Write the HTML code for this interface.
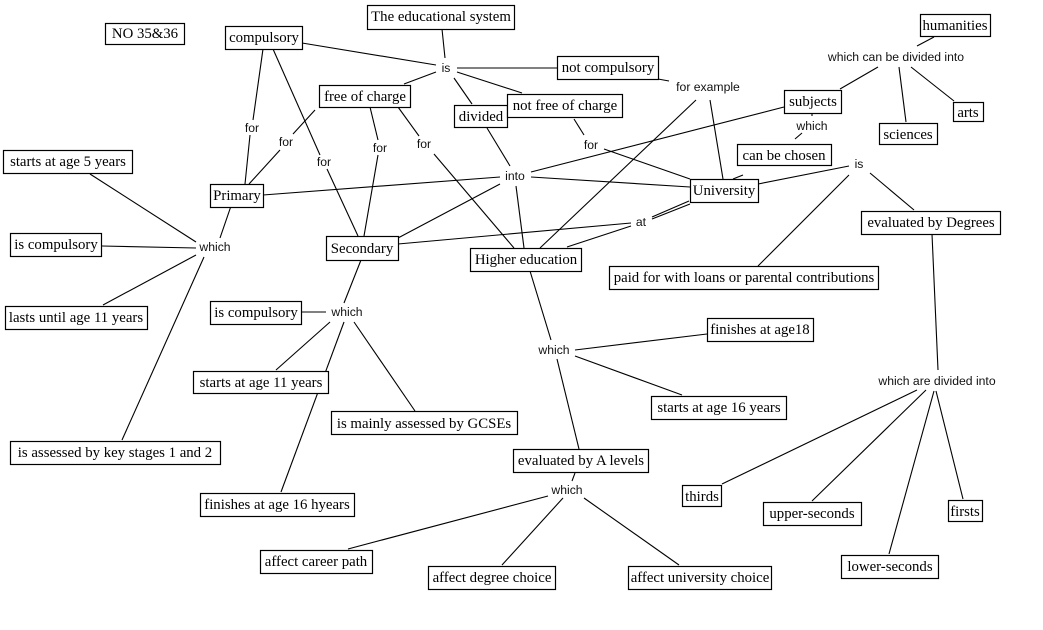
<!DOCTYPE html>
<html><head><meta charset="utf-8">
<style>
html,body{margin:0;padding:0;background:#fff;width:1043px;height:630px;overflow:hidden}
svg{display:block}
.l line{stroke:#000;stroke-width:1.1}
.b rect{fill:#fff;stroke:#000;stroke-width:1.2}
.t text{font-family:"Liberation Serif",serif;font-size:14.8px;text-anchor:middle;fill:#000}
.s text{font-family:"Liberation Sans",sans-serif;font-size:12.2px;text-anchor:middle;fill:#111}
</style></head><body>
<svg width="1043" height="630" viewBox="0 0 1043 630" xmlns="http://www.w3.org/2000/svg">
<g class="l">
<line x1="442" y1="29" x2="445" y2="58"/>
<line x1="302" y1="43" x2="436" y2="65"/>
<line x1="404" y1="84" x2="436" y2="72"/>
<line x1="457" y1="68" x2="557" y2="68"/>
<line x1="457" y1="72" x2="522" y2="93"/>
<line x1="454" y1="78" x2="472" y2="104"/>
<line x1="658" y1="79" x2="669" y2="81"/>
<line x1="263" y1="49" x2="253" y2="120"/>
<line x1="250" y1="135" x2="245" y2="184"/>
<line x1="273" y1="49" x2="320" y2="155"/>
<line x1="327" y1="169" x2="358" y2="236"/>
<line x1="315" y1="110" x2="293" y2="134"/>
<line x1="280" y1="150" x2="249" y2="184"/>
<line x1="370" y1="107" x2="378" y2="140"/>
<line x1="378" y1="155" x2="364" y2="236"/>
<line x1="398" y1="107" x2="419" y2="136"/>
<line x1="434" y1="154" x2="514" y2="248"/>
<line x1="574" y1="119" x2="584" y2="135"/>
<line x1="604" y1="149" x2="690" y2="179"/>
<line x1="487" y1="128" x2="510" y2="166"/>
<line x1="263" y1="195" x2="500" y2="177"/>
<line x1="398" y1="238" x2="500" y2="184"/>
<line x1="516" y1="186" x2="524" y2="248"/>
<line x1="531" y1="177" x2="690" y2="187"/>
<line x1="531" y1="172" x2="784" y2="107"/>
<line x1="540" y1="248" x2="696" y2="100"/>
<line x1="710" y1="100" x2="723" y2="179"/>
<line x1="398" y1="244" x2="631" y2="223"/>
<line x1="567" y1="247" x2="631" y2="226"/>
<line x1="652" y1="217" x2="689" y2="201"/>
<line x1="652" y1="219" x2="690" y2="204"/>
<line x1="733" y1="179" x2="743" y2="175"/>
<line x1="758" y1="184" x2="849" y2="166"/>
<line x1="758" y1="266" x2="849" y2="175"/>
<line x1="870" y1="173" x2="914" y2="210"/>
<line x1="795" y1="139" x2="802" y2="133"/>
<line x1="812" y1="114" x2="812" y2="116"/>
<line x1="840" y1="89" x2="878" y2="67"/>
<line x1="899" y1="67" x2="906" y2="122"/>
<line x1="911" y1="67" x2="954" y2="101"/>
<line x1="917" y1="46" x2="934" y2="37"/>
<line x1="932" y1="234" x2="938" y2="370"/>
<line x1="722" y1="484" x2="917" y2="390"/>
<line x1="812" y1="501" x2="926" y2="390"/>
<line x1="889" y1="554" x2="934" y2="391"/>
<line x1="963" y1="499" x2="936" y2="391"/>
<line x1="231" y1="206" x2="220" y2="238"/>
<line x1="90" y1="174" x2="196" y2="242"/>
<line x1="102" y1="246" x2="196" y2="248"/>
<line x1="103" y1="305" x2="196" y2="255"/>
<line x1="122" y1="440" x2="204" y2="257"/>
<line x1="361" y1="260" x2="344" y2="303"/>
<line x1="302" y1="312" x2="326" y2="312"/>
<line x1="330" y1="322" x2="276" y2="370"/>
<line x1="344" y1="322" x2="281" y2="492"/>
<line x1="354" y1="322" x2="415" y2="411"/>
<line x1="530" y1="271" x2="551" y2="340"/>
<line x1="575" y1="350" x2="707" y2="334"/>
<line x1="575" y1="356" x2="682" y2="395"/>
<line x1="557" y1="359" x2="579" y2="449"/>
<line x1="575" y1="473" x2="572" y2="481"/>
<line x1="548" y1="496" x2="348" y2="549"/>
<line x1="563" y1="498" x2="502" y2="565"/>
<line x1="584" y1="498" x2="679" y2="565"/>
</g>
<g class="b">
<rect x="105.5" y="23.5" width="79" height="21"/>
<rect x="367.5" y="5.5" width="147" height="24"/>
<rect x="225.5" y="26.5" width="77" height="23"/>
<rect x="557.5" y="56.5" width="101" height="23"/>
<rect x="319.5" y="85.5" width="91" height="22"/>
<rect x="454.5" y="105.5" width="53" height="22"/>
<rect x="507.5" y="94.5" width="115" height="23"/>
<rect x="920.5" y="14.5" width="70" height="22"/>
<rect x="784.5" y="90.5" width="57" height="23"/>
<rect x="953.5" y="102.5" width="30" height="19"/>
<rect x="879.5" y="123.5" width="58" height="21"/>
<rect x="737.5" y="144.5" width="94" height="21"/>
<rect x="861.5" y="211.5" width="139" height="23"/>
<rect x="690.5" y="179.5" width="68" height="23"/>
<rect x="470.5" y="248.5" width="111" height="23"/>
<rect x="609.5" y="266.5" width="269" height="23"/>
<rect x="210.5" y="184.5" width="53" height="23"/>
<rect x="326.5" y="236.5" width="72" height="24"/>
<rect x="3.5" y="150.5" width="129" height="23"/>
<rect x="10.5" y="233.5" width="91" height="23"/>
<rect x="5.5" y="306.5" width="142" height="23"/>
<rect x="210.5" y="301.5" width="91" height="23"/>
<rect x="193.5" y="371.5" width="135" height="22"/>
<rect x="331.5" y="411.5" width="186" height="23"/>
<rect x="10.5" y="441.5" width="210" height="23"/>
<rect x="200.5" y="493.5" width="154" height="23"/>
<rect x="707.5" y="318.5" width="106" height="23"/>
<rect x="651.5" y="396.5" width="135" height="23"/>
<rect x="513.5" y="449.5" width="135" height="23"/>
<rect x="682.5" y="485.5" width="39" height="21"/>
<rect x="763.5" y="502.5" width="98" height="23"/>
<rect x="948.5" y="500.5" width="34" height="21"/>
<rect x="841.5" y="555.5" width="97" height="23"/>
<rect x="260.5" y="550.5" width="112" height="23"/>
<rect x="428.5" y="566.5" width="127" height="23"/>
<rect x="628.5" y="566.5" width="143" height="23"/>
</g>
<g class="t">
<text x="145" y="38">NO 35&amp;36</text>
<text x="441" y="21">The educational system</text>
<text x="264" y="42">compulsory</text>
<text x="608" y="72">not compulsory</text>
<text x="365" y="101">free of charge</text>
<text x="481" y="121">divided</text>
<text x="565" y="110">not free of charge</text>
<text x="955" y="30">humanities</text>
<text x="813" y="106">subjects</text>
<text x="968" y="117">arts</text>
<text x="908" y="139">sciences</text>
<text x="784" y="160">can be chosen</text>
<text x="931" y="227">evaluated by Degrees</text>
<text x="724" y="195">University</text>
<text x="526" y="264">Higher education</text>
<text x="744" y="282">paid for with loans or parental contributions</text>
<text x="237" y="200">Primary</text>
<text x="362" y="253">Secondary</text>
<text x="68" y="166">starts at age 5 years</text>
<text x="56" y="249">is compulsory</text>
<text x="76" y="322">lasts until age 11 years</text>
<text x="256" y="317">is compulsory</text>
<text x="261" y="387">starts at age 11 years</text>
<text x="424" y="428">is mainly assessed by GCSEs</text>
<text x="115" y="457">is assessed by key stages 1 and 2</text>
<text x="277" y="509">finishes at age 16 hyears</text>
<text x="760" y="334">finishes at age18</text>
<text x="719" y="412">starts at age 16 years</text>
<text x="581" y="465">evaluated by A levels</text>
<text x="702" y="501">thirds</text>
<text x="812" y="518">upper-seconds</text>
<text x="965" y="516">firsts</text>
<text x="890" y="571">lower-seconds</text>
<text x="316" y="566">affect career path</text>
<text x="492" y="582">affect degree choice</text>
<text x="700" y="582">affect university choice</text>
</g>
<g class="s">
<text x="446" y="72">is</text>
<text x="252" y="132">for</text>
<text x="286" y="146">for</text>
<text x="324" y="166">for</text>
<text x="380" y="152">for</text>
<text x="424" y="148">for</text>
<text x="591" y="149">for</text>
<text x="515" y="180">into</text>
<text x="708" y="91">for example</text>
<text x="896" y="61">which can be divided into</text>
<text x="812" y="130">which</text>
<text x="859" y="168">is</text>
<text x="641" y="226">at</text>
<text x="215" y="251">which</text>
<text x="347" y="316">which</text>
<text x="554" y="354">which</text>
<text x="567" y="494">which</text>
<text x="937" y="385">which are divided into</text>
</g>
</svg>
</body></html>
